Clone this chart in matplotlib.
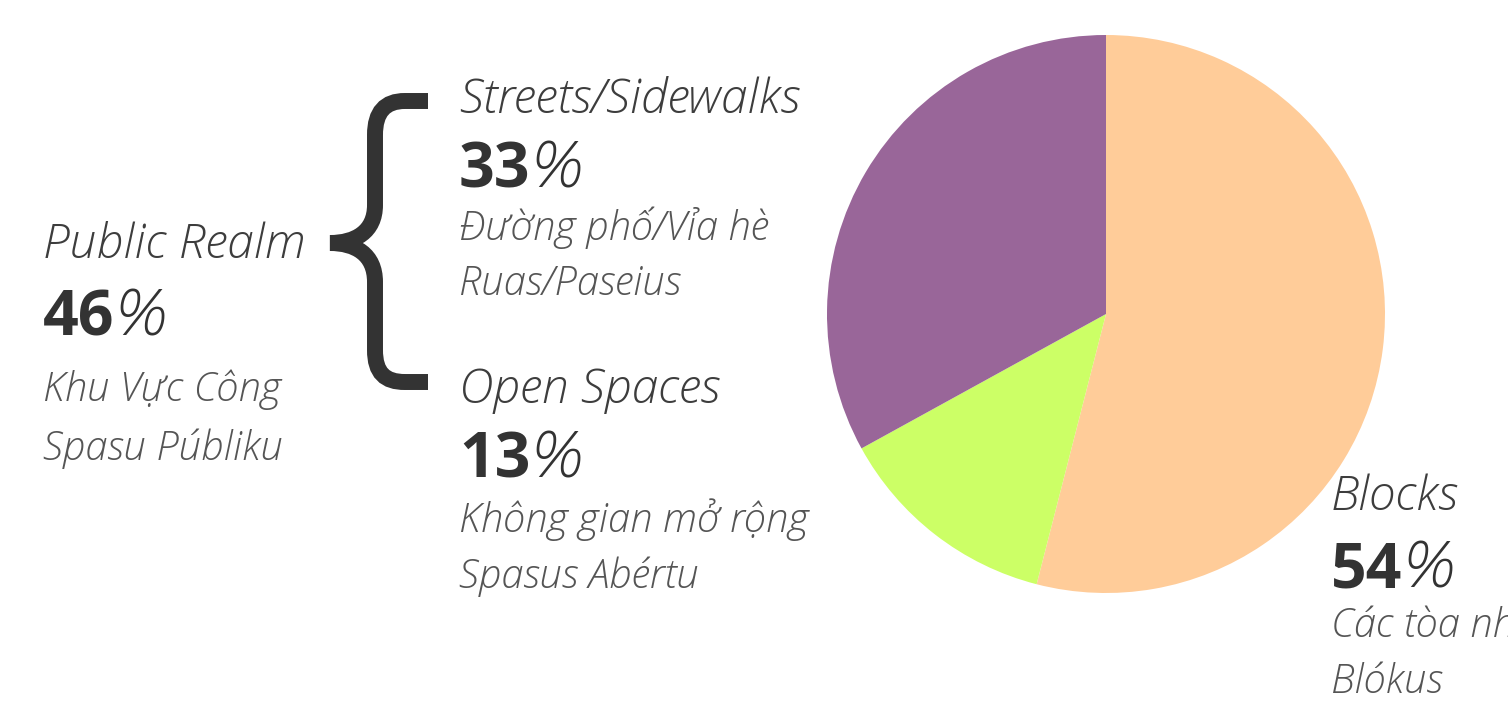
import matplotlib
matplotlib.use("Agg")
import matplotlib.pyplot as plt
from matplotlib.path import Path
from matplotlib.patches import PathPatch

# data
slice_names = ["Blocks", "Open Spaces", "Streets/Sidewalks"]
slice_values = [54, 13, 33]
slice_colors = ["#ffcc99", "#ccff66", "#996699"]

public_title = "Public Realm"
public_value = 46
public_sub = ["Khu Vực Công", "Spasu Públiku"]

streets_sub = ["Đường phố/Vỉa hè", "Ruas/Paseius"]
open_sub = ["Không gian mở rộng", "Spasus Abértu"]
blocks_sub = ["Các tòa nhà", "Blókus"]

W, H = 1508, 704
fig = plt.figure(figsize=(W / 100, H / 100), dpi=100)
fig.patch.set_facecolor("white")

# full figure axes in pixel units for the text and brace
ax0 = fig.add_axes([0, 0, 1, 1])
ax0.set_xlim(0, W)
ax0.set_ylim(H, 0)
ax0.axis("off")

fam = "Open Sans"
title_size = 34.5
num_size = 45
sub_size = 28.8
dark = "#333333"
title_col = "#3d3d3d"
sub_col = "#555555"

renderer = fig.canvas.get_renderer()


def label_block(x, y_title, y_num, y_sub1, y_sub2, title, value, subs):
    ax0.text(x, y_title, title, fontsize=title_size, family=fam, style="italic",
             weight="light", color=title_col, va="baseline", ha="left")
    t = ax0.text(x, y_num, str(value), fontsize=num_size, family=fam,
                 weight="bold", color=dark, va="baseline", ha="left")
    bb = t.get_window_extent(renderer)
    x_pct = ax0.transData.inverted().transform((bb.x1, 0))[0]
    ax0.text(x_pct + 1, y_num, "%", fontsize=num_size + 2, family=fam, style="italic",
             weight="light", color=dark, va="baseline", ha="left")
    ax0.text(x, y_sub1, subs[0], fontsize=sub_size, family=fam, style="italic",
             weight="light", color=sub_col, va="baseline", ha="left")
    ax0.text(x, y_sub2, subs[1], fontsize=sub_size, family=fam, style="italic",
             weight="light", color=sub_col, va="baseline", ha="left")


label_block(43, 258, 335, 401, 460, public_title, public_value, public_sub)
label_block(459, 113, 188, 240, 295, slice_names[2], slice_values[2], streets_sub)
label_block(459, 403, 478, 532, 588, slice_names[1], slice_values[1], open_sub)
label_block(1331, 510, 588, 637, 693, slice_names[0], slice_values[0], blocks_sub)

# curly brace
verts = [
    (428, 101), (405, 101),
    (385, 101), (375, 112), (375, 135),
    (375, 205),
    (375, 232), (355, 243), (330, 243),
    (355, 243), (375, 254), (375, 282),
    (375, 350),
    (375, 373), (385, 382), (405, 382),
    (428, 382),
]
codes = [Path.MOVETO, Path.LINETO,
         Path.CURVE4, Path.CURVE4, Path.CURVE4,
         Path.LINETO,
         Path.CURVE4, Path.CURVE4, Path.CURVE4,
         Path.CURVE4, Path.CURVE4, Path.CURVE4,
         Path.LINETO,
         Path.CURVE4, Path.CURVE4, Path.CURVE4,
         Path.LINETO]
brace = PathPatch(Path(verts, codes), fill=False, edgecolor=dark, linewidth=11.5,
                  capstyle="butt", joinstyle="miter")
ax0.add_patch(brace)

# pie, clipped on the right like the original
x0, x1, y0, y1 = 815, 1384, 25, 605
ax = fig.add_axes([x0 / W, 1 - y1 / H, (x1 - x0) / W, (y1 - y0) / H])
ax.pie(slice_values, colors=slice_colors, startangle=90, counterclock=False,
       center=(1106, H - 314), radius=279, wedgeprops=dict(linewidth=0))
ax.set_aspect("auto")
ax.set_xlim(x0, x1)
ax.set_ylim(H - y1, H - y0)
ax.axis("off")

fig.savefig("out.png", dpi=100, facecolor="white")
